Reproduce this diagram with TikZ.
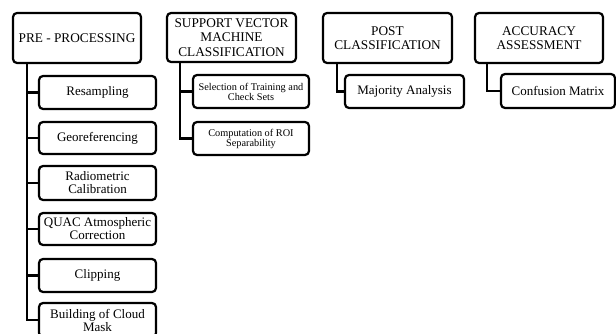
\documentclass[tikz,border=0pt]{standalone}
\usepackage{fontspec}
\setmainfont{Liberation Serif}
\begin{document}
\begin{tikzpicture}[x=1pt,y=-1pt,
  box/.style={draw=black, line width=2.2pt, rounded corners=4pt, fill=white, inner sep=0pt, align=center},
  head/.style={box, minimum width=128, minimum height=50, font=\fontsize{13.3}{14.5}\selectfont},
  sub/.style={box, minimum height=33, font=\fontsize{13}{13}\selectfont},
  small/.style={font=\fontsize{10.3}{10}\selectfont},
  link/.style={draw=black, line width=2.2pt}]
\useasboundingbox (0,0) rectangle (616,334);
% headers
\node[head] (pre) at (77,38) {PRE - PROCESSING};
\node[head, minimum width=129, minimum height=49] (svm) at (231.5,37.5) {SUPPORT VECTOR\\MACHINE\\CLASSIFICATION};
\node[head, minimum width=129] (post) at (387.5,38) {POST\\CLASSIFICATION};
\node[head] (acc) at (539,38) {ACCURACY\\ASSESSMENT};
% pre-processing children
\node[sub, minimum width=117] (res) at (97.5,92.5) {Resampling};
\node[sub, minimum width=117, minimum height=32] (geo) at (97.5,138) {Georeferencing};
\node[sub, minimum width=117, minimum height=34] (rad) at (97.5,183) {Radiometric\\Calibration};
\node[sub, minimum width=117, minimum height=32] (quac) at (97.5,229) {QUAC Atmospheric\\Correction};
\node[sub, minimum width=117] (clip) at (97.5,275.5) {Clipping};
\node[sub, minimum width=117, minimum height=34] (build) at (97.5,320) {Building of Cloud\\Mask};
% svm children
\node[sub, small, minimum width=116] (sel) at (251,91.5) {Selection of Training and\\Check Sets};
\node[sub, small, minimum width=116] (comp) at (251,138.5) {Computation of ROI\\Separability};
% post child
\node[sub, minimum width=119] (maj) at (404.5,91.5) {Majority Analysis};
% accuracy child
\node[sub, minimum width=114, minimum height=34] (conf) at (558,91) {Confusion Matrix};
% trunk tops
\coordinate (t1) at (27,63);
\coordinate (t2) at (180,62);
\coordinate (t3) at (337,63);
\coordinate (t4) at (487,63);
% connectors
\draw[link] (t1) |- (res.west);
\draw[link] (t1) |- (geo.west);
\draw[link] (t1) |- (rad.west);
\draw[link] (t1) |- (quac.west);
\draw[link] (t1) |- (clip.west);
\draw[link] (t1) |- (build.west);
\draw[link] (t2) |- (sel.west);
\draw[link] (t2) |- (comp.west);
\draw[link] (t3) |- (maj.west);
\draw[link] (t4) |- (conf.west);
\end{tikzpicture}
\end{document}
